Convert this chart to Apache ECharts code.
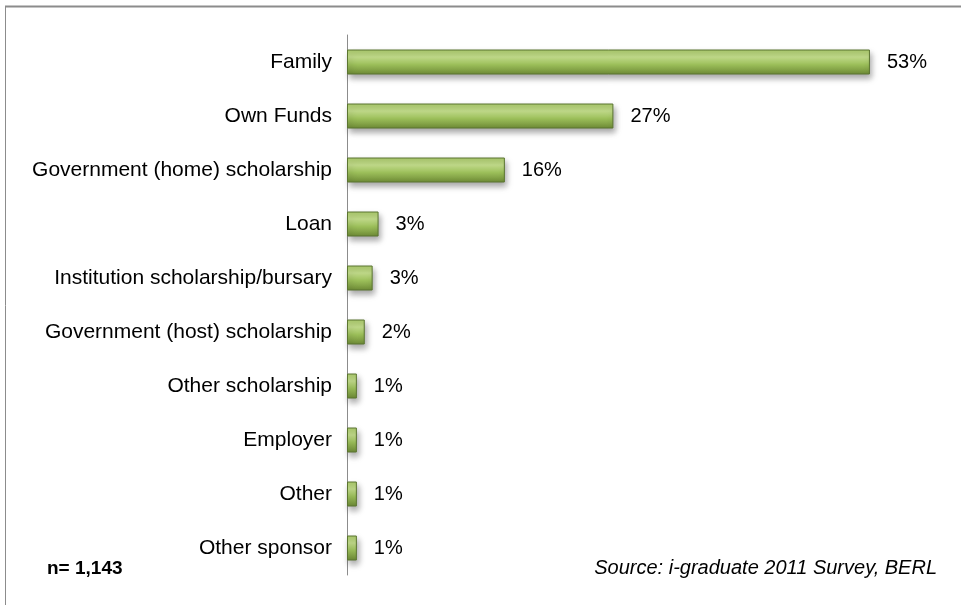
<!DOCTYPE html>
<html>
<head>
<meta charset="utf-8">
<script src="https://cdn.jsdelivr.net/npm/echarts@6/dist/echarts.min.js"></script>
<style>
  html, body { margin: 0; padding: 0; background: #fff; }
  #main { width: 961px; height: 605px; }
</style>
</head>
<body>
<div id="main"></div>
<script>
// categories and values (top to bottom)
var categories = ['Family', 'Own Funds', 'Government (home) scholarship', 'Loan',
    'Institution scholarship/bursary', 'Government (host) scholarship',
    'Other scholarship', 'Employer', 'Other', 'Other sponsor'];
var shares = [53, 27, 16, 3.2, 2.6, 1.8, 1, 1, 1, 1];

var myChart = echarts.init(document.getElementById('main'));

var barColor = new echarts.graphic.LinearGradient(0, 0, 0, 1, [
    { offset: 0, color: '#a9c86a' },
    { offset: 0.3, color: '#c3dd8c' },
    { offset: 0.6, color: '#9cbf5a' },
    { offset: 1, color: '#6d8a35' }
]);

var option = {
    animation: false,
    grid: { left: 347, right: 22, top: 35, height: 540 },
    xAxis: {
        type: 'value',
        min: 0,
        max: 60,
        show: false
    },
    yAxis: {
        type: 'category',
        data: categories,
        inverse: true,
        axisLine: { show: true, lineStyle: { color: '#8c8c8c', width: 1 } },
        axisTick: { show: false },
        axisLabel: {
            color: '#000',
            fontFamily: 'Liberation Sans, Arial, sans-serif',
            fontSize: 21,
            margin: 15
        }
    },
    series: [{
        type: 'bar',
        data: shares,
        barWidth: 25,
        itemStyle: {
            color: barColor,
            borderColor: '#5b7530',
            borderWidth: 1,
            shadowColor: 'rgba(0,0,0,0.35)',
            shadowBlur: 6,
            shadowOffsetX: 2,
            shadowOffsetY: 4
        },
        label: {
            show: true,
            position: 'right',
            distance: 17,
            color: '#000',
            fontFamily: 'Liberation Sans, Arial, sans-serif',
            fontSize: 20,
            formatter: function (p) { return Math.round(p.value) + '%'; }
        }
    }],
    graphic: [
        { type: 'line', shape: { x1: 5, y1: 6.5, x2: 961, y2: 6.5 }, style: { stroke: '#8c8c8c', lineWidth: 2 } },
        { type: 'line', shape: { x1: 5.5, y1: 6, x2: 5.5, y2: 605 }, style: { stroke: '#8c8c8c', lineWidth: 1 } },
        { type: 'text', left: 47, top: 559, style: { text: 'n= 1,143', fill: '#000', font: 'bold 19px Liberation Sans, Arial, sans-serif' } },
        { type: 'text', right: 24, top: 558, style: { text: 'Source: i-graduate 2011 Survey, BERL', fill: '#000', font: 'italic 20px Liberation Sans, Arial, sans-serif' } }
    ]
};
myChart.setOption(option);
</script>
</body>
</html>
